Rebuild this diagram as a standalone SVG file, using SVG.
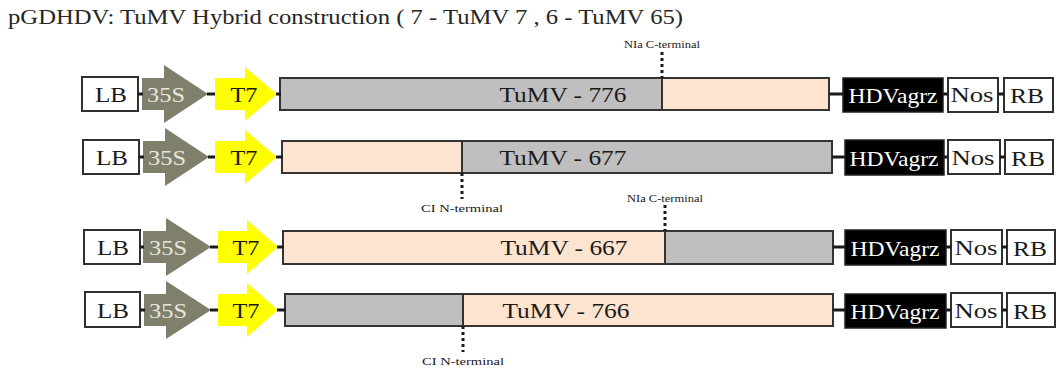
<svg xmlns="http://www.w3.org/2000/svg" width="1056" height="371" viewBox="0 0 1056 371" font-family="'Liberation Serif', Tinos, 'Times New Roman', Times, serif">
<style>
.lbl{font-size:22px;fill:#1a1a1a;text-anchor:middle;}
.wbox{fill:#ffffff;stroke:#303030;stroke-width:2;}
.hdv{fill:#000000;stroke:#202020;stroke-width:1.5;}
.hdvt{font-size:22px;fill:#ffffff;text-anchor:middle;}
.p35{fill:#7f7f6b;}
.p35t{font-size:22px;fill:#e6e6dc;text-anchor:middle;}
.t7{fill:#ffff00;}
.gray{fill:#bfbfbf;}
.peach{fill:#fde4d0;}
.frame{fill:none;stroke:#333333;stroke-width:2;}
.div{stroke:#333333;stroke-width:2;}
.conn{stroke:#1a1a1a;stroke-width:3;}
.dash{stroke:#1a1a1a;stroke-width:3;stroke-dasharray:3 3;}
.small{font-size:10px;fill:#1a1a1a;text-anchor:middle;}
.title{font-size:21px;fill:#262626;}
</style>

<text id="title" class="title" x="8" y="24" textLength="675" lengthAdjust="spacingAndGlyphs">pGDHDV: TuMV Hybrid construction ( 7 - TuMV 7 , 6 - TuMV 65)</text>

<!-- Row 1 -->
<g id="row1">
  <g id="r1-lb"><rect class="wbox" x="82" y="77" width="56" height="34"/><text class="lbl" x="111" y="102" textLength="32" lengthAdjust="spacingAndGlyphs">LB</text></g>
  <g id="r1-35s"><polygon class="p35" points="142,78 164,78 164,65 208,94 164,123 164,110 142,110"/><text class="p35t" x="166" y="102" textLength="38" lengthAdjust="spacingAndGlyphs">35S</text></g>
  <g id="r1-t7"><polygon class="t7" points="215,78 245,78 245,67 277,94 245,121 245,110 215,110"/><text class="lbl" x="244" y="102" textLength="27" lengthAdjust="spacingAndGlyphs">T7</text></g>
  <g id="r1-tumv">
    <rect class="gray" x="280" y="78" width="382" height="32"/>
    <rect class="peach" x="662" y="78" width="167" height="32"/>
    <rect class="frame" x="280" y="78" width="549" height="32"/>
    <line class="div" x1="662" y1="78" x2="662" y2="110"/>
    <text class="lbl" x="563" y="102" textLength="127" lengthAdjust="spacingAndGlyphs">TuMV - 776</text>
  </g>
  <g id="r1-nia"><line class="dash" x1="662" y1="52" x2="662" y2="78"/><text class="small" x="662" y="48" textLength="76" lengthAdjust="spacingAndGlyphs">NIa C-terminal</text></g>
  <g id="r1-hdv"><rect class="hdv" x="843" y="78" width="100" height="34"/><text class="hdvt" x="893" y="103" textLength="89" lengthAdjust="spacingAndGlyphs">HDVagrz</text></g>
  <g id="r1-nos"><rect class="wbox" x="948" y="78" width="50" height="34"/><text class="lbl" x="972" y="102" textLength="43" lengthAdjust="spacingAndGlyphs">Nos</text></g>
  <g id="r1-rb"><rect class="wbox" x="1004" y="78" width="49" height="34"/><text class="lbl" x="1027" y="103" textLength="34" lengthAdjust="spacingAndGlyphs">RB</text></g>
</g>

<!-- Row 2 -->
<g id="row2">
  <g id="r2-lb"><rect class="wbox" x="83" y="140" width="56" height="34"/><text class="lbl" x="112" y="165" textLength="32" lengthAdjust="spacingAndGlyphs">LB</text></g>
  <g id="r2-35s"><polygon class="p35" points="143,141 165,141 165,128 209,157 165,186 165,173 143,173"/><text class="p35t" x="167" y="165" textLength="38" lengthAdjust="spacingAndGlyphs">35S</text></g>
  <g id="r2-t7"><polygon class="t7" points="215,141 245,141 245,130 277,157 245,184 245,173 215,173"/><text class="lbl" x="244" y="165" textLength="27" lengthAdjust="spacingAndGlyphs">T7</text></g>
  <g id="r2-tumv">
    <rect class="peach" x="282" y="141" width="180" height="32"/>
    <rect class="gray" x="462" y="141" width="370" height="32"/>
    <rect class="frame" x="282" y="141" width="550" height="32"/>
    <line class="div" x1="462" y1="141" x2="462" y2="173"/>
    <text class="lbl" x="563" y="165" textLength="127" lengthAdjust="spacingAndGlyphs">TuMV - 677</text>
  </g>
  <g id="r2-ci"><line class="dash" x1="462" y1="173" x2="462" y2="199"/><text class="small" x="462" y="212" textLength="82" lengthAdjust="spacingAndGlyphs">CI N-terminal</text></g>
  <g id="r2-hdv"><rect class="hdv" x="845" y="140" width="99" height="35"/><text class="hdvt" x="894" y="166" textLength="89" lengthAdjust="spacingAndGlyphs">HDVagrz</text></g>
  <g id="r2-nos"><rect class="wbox" x="948" y="140" width="52" height="34"/><text class="lbl" x="973" y="165" textLength="43" lengthAdjust="spacingAndGlyphs">Nos</text></g>
  <g id="r2-rb"><rect class="wbox" x="1005" y="140" width="48" height="34"/><text class="lbl" x="1028" y="166" textLength="34" lengthAdjust="spacingAndGlyphs">RB</text></g>
</g>

<!-- Row 3 -->
<g id="row3">
  <g id="r3-lb"><rect class="wbox" x="84" y="230" width="56" height="34"/><text class="lbl" x="113" y="255" textLength="32" lengthAdjust="spacingAndGlyphs">LB</text></g>
  <g id="r3-35s"><polygon class="p35" points="143,231 166,231 166,218 211,247 166,276 166,263 143,263"/><text class="p35t" x="168" y="255" textLength="38" lengthAdjust="spacingAndGlyphs">35S</text></g>
  <g id="r3-t7"><polygon class="t7" points="218,231 247,231 247,220 278,247 247,274 247,263 218,263"/><text class="lbl" x="246" y="255" textLength="27" lengthAdjust="spacingAndGlyphs">T7</text></g>
  <g id="r3-tumv">
    <rect class="peach" x="283" y="231" width="382" height="33"/>
    <rect class="gray" x="665" y="231" width="168" height="33"/>
    <rect class="frame" x="283" y="231" width="550" height="33"/>
    <line class="div" x1="665" y1="231" x2="665" y2="264"/>
    <text class="lbl" x="564" y="255" textLength="127" lengthAdjust="spacingAndGlyphs">TuMV - 667</text>
  </g>
  <g id="r3-nia"><line class="dash" x1="665" y1="205" x2="665" y2="231"/><text class="small" x="665" y="202" textLength="76" lengthAdjust="spacingAndGlyphs">NIa C-terminal</text></g>
  <g id="r3-hdv"><rect class="hdv" x="845" y="230" width="101" height="35"/><text class="hdvt" x="895" y="256" textLength="89" lengthAdjust="spacingAndGlyphs">HDVagrz</text></g>
  <g id="r3-nos"><rect class="wbox" x="951" y="230" width="51" height="34"/><text class="lbl" x="976" y="255" textLength="43" lengthAdjust="spacingAndGlyphs">Nos</text></g>
  <g id="r3-rb"><rect class="wbox" x="1007" y="230" width="48" height="34"/><text class="lbl" x="1030" y="256" textLength="34" lengthAdjust="spacingAndGlyphs">RB</text></g>
</g>

<!-- Row 4 -->
<g id="row4">
  <g id="r4-lb"><rect class="wbox" x="85" y="292" width="55" height="35"/><text class="lbl" x="113" y="318" textLength="32" lengthAdjust="spacingAndGlyphs">LB</text></g>
  <g id="r4-35s"><polygon class="p35" points="144,294 166,294 166,281 211,310 166,339 166,326 144,326"/><text class="p35t" x="168" y="318" textLength="38" lengthAdjust="spacingAndGlyphs">35S</text></g>
  <g id="r4-t7"><polygon class="t7" points="218,294 247,294 247,283 278,310 247,337 247,326 218,326"/><text class="lbl" x="246" y="318" textLength="27" lengthAdjust="spacingAndGlyphs">T7</text></g>
  <g id="r4-tumv">
    <rect class="gray" x="285" y="294" width="178" height="32"/>
    <rect class="peach" x="463" y="294" width="370" height="32"/>
    <rect class="frame" x="285" y="294" width="548" height="32"/>
    <line class="div" x1="463" y1="294" x2="463" y2="326"/>
    <text class="lbl" x="566" y="318" textLength="127" lengthAdjust="spacingAndGlyphs">TuMV - 766</text>
  </g>
  <g id="r4-ci"><line class="dash" x1="463" y1="326" x2="463" y2="352"/><text class="small" x="463" y="365" textLength="82" lengthAdjust="spacingAndGlyphs">CI N-terminal</text></g>
  <g id="r4-hdv"><rect class="hdv" x="845" y="294" width="101" height="34"/><text class="hdvt" x="895" y="319" textLength="89" lengthAdjust="spacingAndGlyphs">HDVagrz</text></g>
  <g id="r4-nos"><rect class="wbox" x="951" y="293" width="51" height="34"/><text class="lbl" x="976" y="318" textLength="43" lengthAdjust="spacingAndGlyphs">Nos</text></g>
  <g id="r4-rb"><rect class="wbox" x="1007" y="293" width="48" height="34"/><text class="lbl" x="1030" y="319" textLength="34" lengthAdjust="spacingAndGlyphs">RB</text></g>
</g>

<g id="connectors">
  <line class="conn" x1="138" y1="94" x2="143" y2="94"/>
  <line class="conn" x1="207" y1="94" x2="215" y2="94"/>
  <line class="conn" x1="276" y1="94" x2="281" y2="94"/>
  <line class="conn" x1="829" y1="94" x2="843" y2="94"/>
  <line class="conn" x1="943" y1="94" x2="948" y2="94"/>
  <line class="conn" x1="998" y1="94" x2="1004" y2="94"/>

  <line class="conn" x1="139" y1="157" x2="144" y2="157"/>
  <line class="conn" x1="208" y1="157" x2="215" y2="157"/>
  <line class="conn" x1="276" y1="157" x2="283" y2="157"/>
  <line class="conn" x1="832" y1="157" x2="845" y2="157"/>
  <line class="conn" x1="944" y1="157" x2="948" y2="157"/>
  <line class="conn" x1="1000" y1="157" x2="1005" y2="157"/>

  <line class="conn" x1="140" y1="247" x2="144" y2="247"/>
  <line class="conn" x1="210" y1="247" x2="218" y2="247"/>
  <line class="conn" x1="277" y1="247" x2="284" y2="247"/>
  <line class="conn" x1="833" y1="247" x2="845" y2="247"/>
  <line class="conn" x1="946" y1="247" x2="951" y2="247"/>
  <line class="conn" x1="1002" y1="247" x2="1007" y2="247"/>

  <line class="conn" x1="140" y1="310" x2="145" y2="310"/>
  <line class="conn" x1="210" y1="310" x2="218" y2="310"/>
  <line class="conn" x1="277" y1="310" x2="286" y2="310"/>
  <line class="conn" x1="833" y1="310" x2="845" y2="310"/>
  <line class="conn" x1="946" y1="310" x2="951" y2="310"/>
  <line class="conn" x1="1002" y1="310" x2="1007" y2="310"/>
</g>
</svg>
